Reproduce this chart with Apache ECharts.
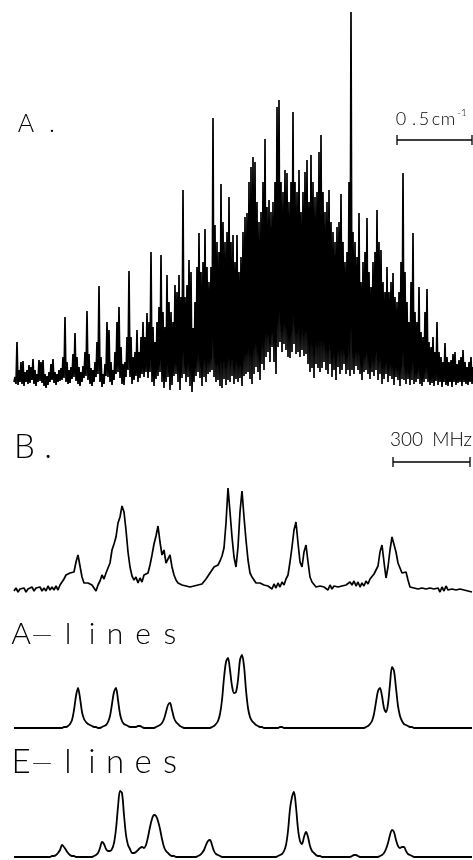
<!DOCTYPE html>
<html><head><meta charset="utf-8">
<script src="https://cdn.jsdelivr.net/npm/echarts@6/dist/echarts.min.js"></script>
<style>html,body{margin:0;padding:0;background:#fff}#c{width:473px;height:860px}</style>
</head><body><div id="c"></div>
<script>
// ---------- DATA ----------
// Panel A: survey spectrum, min/max per sample (arbitrary intensity units), sample step in cm^-1
const stepA = 0.5 / 37.5;
const specA_max = [
5,40,12,20,21,10,12,17,15,23,
12,8,22,20,22,8,6,10,18,23,
10,8,12,14,25,65,20,12,15,28,
49,25,15,10,16,30,71,28,14,12,
20,40,96,25,8,18,60,52,20,12,
30,60,75,35,18,20,45,111,45,25,
30,52,30,45,60,45,69,60,130,55,
40,60,75,127,70,55,107,80,70,60,
97,90,107,85,192,85,97,122,110,54,
80,115,149,110,120,153,115,100,115,264,
157,140,130,198,160,140,150,185,140,147,
120,147,110,125,150,165,169,200,215,225,
220,180,160,170,200,243,175,182,170,180,
200,275,282,200,190,212,209,180,200,270,
200,190,212,170,190,210,222,180,227,200,
185,190,230,247,190,170,180,192,160,150,
140,155,160,188,140,120,130,200,370,150,
140,125,169,100,120,130,164,110,95,120,
130,172,140,132,100,90,115,90,100,109,
85,80,90,120,209,110,80,60,100,149,
70,60,95,50,45,70,93,40,35,45,
30,60,30,25,20,39,25,20,22,28,
30,18,22,25,32,20,15,20,25,15];
const specA_min = [
0,-2,-3,0,-2,-4,0,-2,-1,2,
-2,-4,0,1,-1,-4,-6,-3,0,2,
-1,-3,0,1,2,4,0,-2,-1,3,
5,1,-2,-4,0,4,6,2,-2,-4,
0,5,8,0,-5,-2,6,5,0,-3,
2,8,10,4,-2,-3,5,12,5,-2,
2,6,0,4,8,5,10,4,10,0,
-4,3,6,10,0,-6,0,5,-8,-3,
6,8,0,-8,4,8,0,5,-4,-10,
0,6,10,4,-4,5,0,8,10,12,
5,0,2,-4,-6,3,-3,2,0,6,
-2,3,0,4,-4,6,8,10,3,-2,
8,15,10,2,18,12,25,30,20,35,
20,8,35,40,30,38,32,25,24,30,
38,28,30,25,32,26,28,18,10,14,
4,18,14,10,14,20,12,8,18,5,
12,2,15,8,12,18,8,12,6,12,
8,16,12,8,2,10,12,8,3,10,
6,12,2,8,-2,3,8,0,6,3,
-3,5,2,-4,3,2,-2,3,-3,2,
-2,0,3,-2,-4,0,3,0,-3,-1,
-4,1,-3,0,-5,0,-3,-4,0,-5,
0,-3,-1,0,-4,0,-2,-3,0,-2];
const scaleA = 0.5; // cm^-1

// Panel B: sample step in MHz
const stepB = 300 / 38.5;
const specB_obs = [
1,4,0,3,1,4,0,3,1,5,
1,4,2,5,1,4,1,6,2,5,
2,6,2,7,7,13,17,15,19,17,
20,30,37,26,15,9,9,9,7,7,
4,1,7,11,17,13,19,19,29,42,
48,55,69,75,86,80,62,40,25,16,
12,15,9,14,10,17,19,19,27,37,
48,56,66,50,37,42,29,33,37,25,
17,12,9,9,7,7,6,6,5,5,
6,7,7,8,8,9,13,15,19,21,
25,27,27,31,36,44,69,104,80,55,
35,25,45,80,101,75,52,32,19,15,
13,9,9,9,7,7,6,6,7,3,
8,4,9,5,10,7,13,17,30,45,
62,70,49,30,25,40,47,30,15,10,
9,5,6,6,5,5,6,2,7,3,
6,6,5,5,6,7,7,6,10,7,
11,6,10,5,9,6,11,8,13,13,
18,20,26,40,47,30,14,25,42,55,
57,40,29,24,19,17,20,12,5,5,
4,4,3,3,4,4,3,3,4,4,
3,3,4,0,5,1,6,2,3,3,
2,2,3,3,2,2,1,1,2,0];
const specB_Alines = [
0,0,0,0,0,0,0,0,0,0,
0,0,0,0,0,0,0,0,0,0,
0,0,0,0,0,1,1,2,4,8,
18,32,40,30,16,9,6,4,3,2,
1,1,0,0,1,2,3,6,12,24,
36,40,28,14,7,4,3,2,1,1,
1,1,2,2,1,0,0,0,0,0,
0,1,2,3,5,9,16,23,25,18,
10,6,4,2,1,0,0,0,0,0,
0,0,0,0,0,0,0,0,0,1,
2,4,7,14,28,50,66,70,58,42,
35,36,48,68,73,62,38,20,11,7,
5,3,2,1,1,0,0,0,0,0,
0,0,0,1,1,0,0,0,0,0,
0,0,0,0,0,0,0,0,0,0,
0,0,0,0,0,0,0,0,0,0,
0,0,0,0,0,0,0,0,0,0,
0,0,0,0,0,0,1,2,4,7,
14,26,37,40,32,20,16,24,44,61,
57,40,22,12,7,4,3,2,1,1,
0,0,0,0,0,0,0,0,0,0,
0,0,0,0,0,0,0,0,0,0,
0,0,0,0,0,0,0,0,0,0];
const specB_Elines = [
0,0,0,0,0,0,0,0,0,0,
0,0,0,0,0,0,0,0,0,1,
1,2,4,7,12,10,7,4,2,1,
1,0,0,0,0,0,0,0,0,0,
1,2,4,9,15,13,8,6,6,8,
14,28,50,66,64,42,22,12,8,4,
4,5,7,9,10,9,12,20,30,38,
42,41,36,28,18,10,6,4,2,1,
1,0,0,0,0,0,0,0,0,0,
0,0,1,2,4,7,12,16,17,12,
6,3,2,1,0,0,0,0,0,0,
0,0,0,0,0,0,0,0,0,0,
0,0,0,0,0,0,0,0,0,0,
0,0,1,2,3,6,12,26,48,60,
65,50,28,16,13,20,25,20,11,6,
4,2,1,1,0,0,0,0,0,0,
0,0,0,0,0,0,0,0,0,1,
2,2,1,0,0,0,0,0,0,0,
0,0,0,1,2,4,8,14,22,27,
25,17,11,9,10,10,6,3,2,1,
0,0,0,0,0,0,0,0,0,0,
0,0,0,0,0,0,0,0,0,0,
0,0,0,0,0,0,0,0,0,0];
const scaleB = 300; // MHz

// ---------- BUILD ----------
const traceA = [];
specA_max.forEach((mx, i) => {
  const x = i * stepA;
  traceA.push([x, specA_min[i]]);
  traceA.push([x + stepA / 2, mx]);
});
const toXY = (arr, step) => arr.map((v, i) => [i * step, v]);
const xMaxA = (specA_max.length - 1) * stepA;
const xMaxB = (specB_obs.length - 1) * stepB;

function bar(xEnd, len, y, tick) {
  const x0 = xEnd - len;
  return [[x0, y + tick], [x0, y - tick], [x0, y], [xEnd, y], [xEnd, y - tick], [xEnd, y + tick]];
}

const F = 'Lato, "DejaVu Sans", sans-serif';
function txt(s, cx, cy, size, align, sx) {
  return { type: 'text', x: cx, y: cy, scaleX: sx || 1, style: { text: s, fontSize: size, fontFamily: F, fontWeight: 300, fill: '#000', align: align || 'center', verticalAlign: 'middle' } };
}
function spaced(s, centers, cy, size) {
  return Array.from(s).map((ch, k) => txt(ch, centers[k], cy, size));
}

const graphics = [].concat(
  [txt('A', 26, 123.5, 25), txt('.', 52, 123.5, 25)],
  spaced('0.5cm', [401, 414, 424, 436, 448], 119.5, 18),
  [txt('-1', 462, 113, 10)],
  [txt('B', 24.5, 447.5, 33), txt('.', 48, 447.5, 33)],
  [txt('300', 390, 439.5, 19, 'left'), txt('MHz', 472, 439.5, 19, 'right')],
  spaced('A', [21], 634, 30), [txt('\u2014', 42, 635, 21, 'center', 1.3)],
  spaced('lines', [68, 92, 115, 143, 170], 634, 30),
  spaced('E', [21], 762.5, 33), [txt('\u2014', 42, 763, 21, 'center', 1.3)],
  spaced('lines', [68, 92, 115, 143, 170], 762.5, 33)
);

const option = {
  animation: false,
  backgroundColor: '#fff',
  graphic: graphics,
  grid: [
    { left: 14, width: 458, top: 12, height: 390 },
    { left: 14, width: 458, top: 430, height: 172 },
    { left: 14, width: 458, top: 648, height: 85 },
    { left: 14, width: 458, top: 787, height: 73 }
  ],
  xAxis: [
    { type: 'value', gridIndex: 0, min: 0, max: xMaxA, show: false },
    { type: 'value', gridIndex: 1, min: 0, max: xMaxB, show: false },
    { type: 'value', gridIndex: 2, min: 0, max: xMaxB, show: false },
    { type: 'value', gridIndex: 3, min: 0, max: xMaxB, show: false }
  ],
  yAxis: [
    { type: 'value', gridIndex: 0, min: -20, max: 370, show: false },
    { type: 'value', gridIndex: 1, min: -10, max: 162, show: false },
    { type: 'value', gridIndex: 2, min: -5, max: 80, show: false },
    { type: 'value', gridIndex: 3, min: -3, max: 70, show: false }
  ],
  series: [
    { type: 'line', xAxisIndex: 0, yAxisIndex: 0, data: traceA, showSymbol: false, clip: false,
      lineStyle: { color: '#000', width: 1.7 } },
    { type: 'line', xAxisIndex: 0, yAxisIndex: 0, data: bar(xMaxA, scaleA, 242, 5), showSymbol: false,
      lineStyle: { color: '#000', width: 1.3 } },
    { type: 'line', xAxisIndex: 1, yAxisIndex: 1, data: toXY(specB_obs, stepB), showSymbol: false, clip: false,
      lineStyle: { color: '#000', width: 1.7 } },
    { type: 'line', xAxisIndex: 1, yAxisIndex: 1, data: bar(xMaxB - stepB, scaleB, 130, 5), showSymbol: false,
      lineStyle: { color: '#000', width: 1.3 } },
    { type: 'line', xAxisIndex: 2, yAxisIndex: 2, data: toXY(specB_Alines, stepB), showSymbol: false, smooth: 0.3, clip: false,
      lineStyle: { color: '#000', width: 1.8 } },
    { type: 'line', xAxisIndex: 3, yAxisIndex: 3, data: toXY(specB_Elines, stepB), showSymbol: false, smooth: 0.3, clip: false,
      lineStyle: { color: '#000', width: 1.8 } }
  ]
};
echarts.init(document.getElementById('c')).setOption(option);
</script>
</body></html>
